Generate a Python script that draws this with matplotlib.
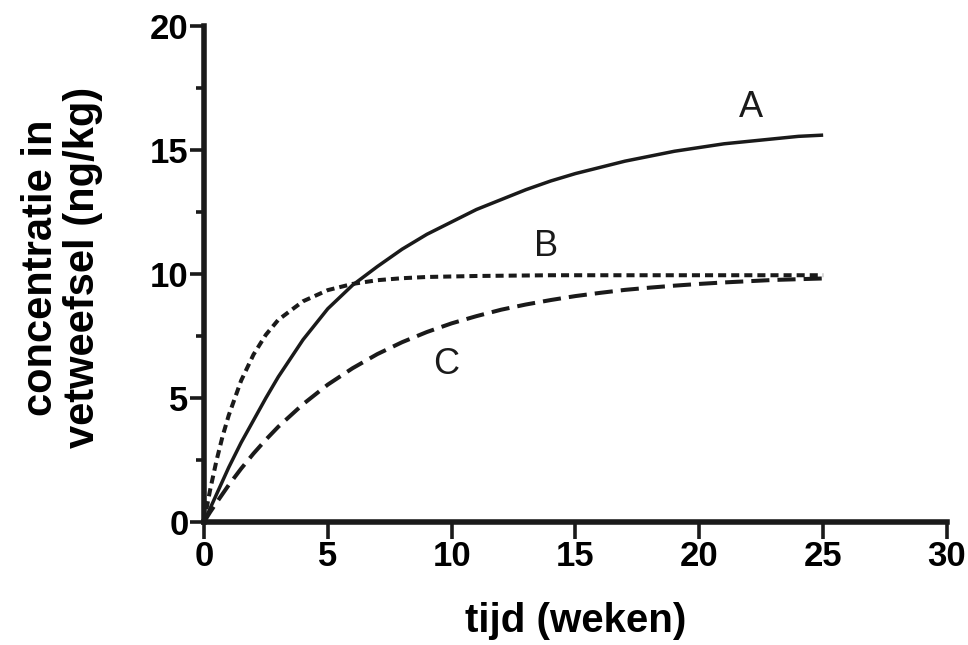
# accumulation curves A, B, C in fat tissue
import matplotlib.pyplot as plt
from matplotlib.ticker import MultipleLocator

weeks = [0, 0.25, 0.5, 0.75, 1, 1.5, 2, 2.5, 3, 4, 5, 6, 7, 8, 9, 10, 11, 12,
         13, 14, 15, 16, 17, 18, 19, 20, 21, 22, 23, 24, 25]
conc_a = [0, 0.55, 1.1, 1.65, 2.2, 3.2, 4.1, 5.0, 5.85, 7.35, 8.6, 9.55, 10.3,
          11.0, 11.6, 12.1, 12.6, 13.0, 13.4, 13.75, 14.05, 14.3, 14.55, 14.75,
          14.95, 15.1, 15.25, 15.35, 15.45, 15.55, 15.6]
conc_b = [0, 1.3, 2.45, 3.45, 4.3, 5.7, 6.75, 7.55, 8.15, 8.9, 9.35, 9.6,
          9.75, 9.83, 9.88, 9.9, 9.92, 9.93, 9.94, 9.95, 9.95, 9.95, 9.95, 9.95,
          9.95, 9.95, 9.95, 9.95, 9.95, 9.95, 9.95]
conc_c = [0, 0.4, 0.77, 1.13, 1.49, 2.15, 2.76, 3.32, 3.84, 4.75, 5.54, 6.2,
          6.77, 7.25, 7.66, 8.01, 8.3, 8.56, 8.77, 8.95, 9.11, 9.24, 9.36, 9.45,
          9.53, 9.6, 9.66, 9.71, 9.76, 9.79, 9.82]
curve_labels = {'A': (22.1, 16.7), 'B': (13.8, 11.1), 'C': (9.8, 6.35)}

plt.rcParams['font.family'] = ['Liberation Sans', 'DejaVu Sans']

fig = plt.figure(figsize=(9.68, 6.45), dpi=100)
ax = fig.add_axes([0.2107, 0.1907, 0.7676, 0.769])

ax.plot(weeks, conc_a, color='#1a1a1a', lw=2.5, solid_capstyle='butt', clip_on=False)
ax.plot(weeks, conc_b, color='#1a1a1a', lw=2.9, dashes=(2, 1.25), clip_on=False)
ax.plot(weeks, conc_c, color='#1a1a1a', lw=2.9, dashes=(4.5, 2), clip_on=False)

for name, (x, y) in curve_labels.items():
    ax.text(x, y, name, fontsize=26, ha='center', va='center', color='#1a1a1a')

ax.set_xlim(0, 30)
ax.set_ylim(0, 20)
ax.xaxis.set_major_locator(MultipleLocator(5))
ax.yaxis.set_major_locator(MultipleLocator(5))
ax.yaxis.set_minor_locator(MultipleLocator(2.5))

for side in ['top', 'right']:
    ax.spines[side].set_visible(False)
for side in ['left', 'bottom']:
    ax.spines[side].set_linewidth(4)
    ax.spines[side].set_color('#1a1a1a')

ax.tick_params(axis='both', which='major', width=2.6, color='#1a1a1a',
               labelsize=25, pad=1)
ax.tick_params(axis='y', which='major', length=10)
ax.tick_params(axis='x', which='major', length=12)
ax.tick_params(axis='y', which='minor', length=6, width=2.6, color='#1a1a1a')
for lab in ax.get_xticklabels() + ax.get_yticklabels():
    lab.set_fontweight('bold')

ax.set_xlabel('tijd (weken)', fontsize=29, fontweight='bold', labelpad=21)
fig.text(0.064, 0.585, 'concentratie in\nvetweefsel (ng/kg)', rotation=90,
         ha='center', va='center', fontsize=30, fontweight='bold',
         linespacing=1.05)

fig.savefig('out.png', dpi=100, facecolor='white')
